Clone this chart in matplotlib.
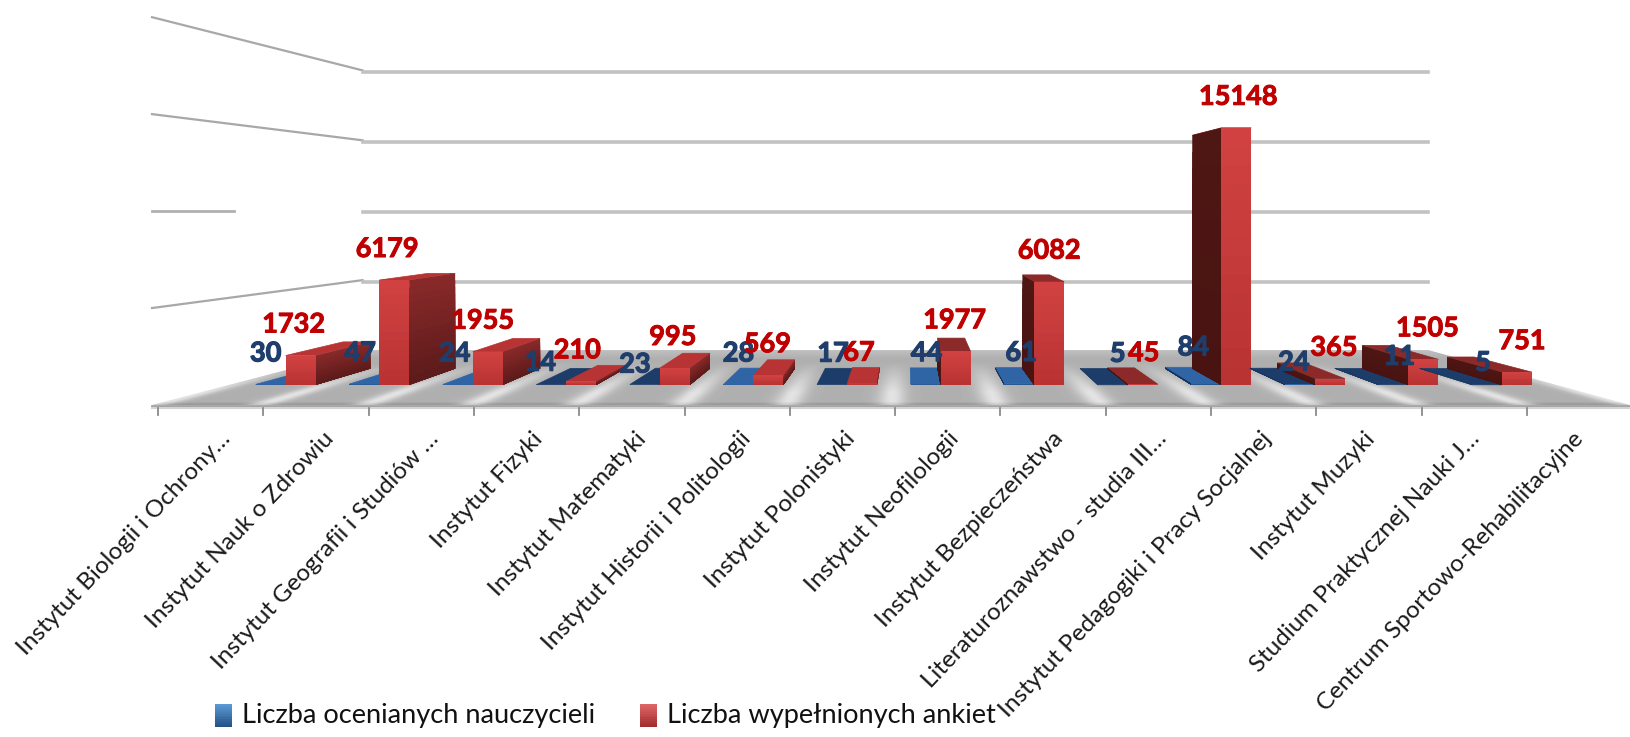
import numpy as np
import matplotlib
matplotlib.use('Agg')
import matplotlib.pyplot as plt
import matplotlib.patheffects as pe
from matplotlib.patches import Polygon
from matplotlib.colors import to_rgb

plt.rcParams['font.family'] = ['Lato', 'DejaVu Sans']

categories = ['Instytut Biologii i Ochrony…', 'Instytut Nauk o Zdrowiu', 'Instytut Geografii i Studiów …',
              'Instytut Fizyki', 'Instytut Matematyki', 'Instytut Historii i Politologii',
              'Instytut Polonistyki', 'Instytut Neofilologii', 'Instytut Bezpieczeństwa',
              'Literaturoznawstwo - studia III…', 'Instytut Pedagogiki i Pracy Socjalnej',
              'Instytut Muzyki', 'Studium Praktycznej Nauki J…', 'Centrum Sportowo-Rehabilitacyjne']
nauczyciele = [30, 47, 24, 14, 23, 28, 17, 44, 61, 5, 84, 24, 11, 5]
ankiety = [1732, 6179, 1955, 210, 995, 569, 67, 1977, 6082, 45, 15148, 365, 1505, 751]
legend_names = ['Liczba ocenianych nauczycieli', 'Liczba wypełnionych ankiet']

# label nudges, px
red_dx = [-7, -7, -5, -4, -2, -1, -3, -1, 0, 1, 2, 4, 4, 5]
blue_dx = [-5, -4, -3, -11, -10, 0, 1, 1, 2, 5, -13, -6, 6, -4]
blue_dy = [-31, -31, -31, -22, -20, -31, -31, -31, -31, -31, -36, -22, -28, -22]
dark_blue = [3, 4, 6, 9, 11, 12, 13]

# fake 3d: everything is scaled towards a vanishing point
VX, VY = 907, 208
FLOOR_Y = 405
K = 0.0189       # px per survey on the front plane
T_BACK = 0.721   # back wall
T_B0, T_B1 = 0.898, 0.815   # bar front, bar back
BAR_X0, BAR_STEP, BAR_W = 215, 104.2, 33.4
GRID = [5130, 10260, 15390, 20520]


def proj(x, t, val=0):
    return (VX + (x - VX) * t, VY + (FLOOR_Y - val * K - VY) * t)


def shade(ax, a, b, c, d, c0, c1, n=14, z=3):
    # quad a-b-c-d, colour goes from edge a-b to edge d-c
    # each strip runs to the far edge so no seams show between them
    a, b, c, d = map(np.array, (a, b, c, d))
    c0, c1 = np.array(to_rgb(c0)), np.array(to_rgb(c1))
    for i in range(n):
        f0 = i / n
        pts = [a + (d - a) * f0, b + (c - b) * f0, c, d]
        col = c0 + (c1 - c0) * (f0 + 0.5 / n)
        ax.add_patch(Polygon(pts, closed=True, fc=col, ec='none', zorder=z))


def bar(ax, x0, w, val, front0, front1, side0, side1, top):
    x1 = x0 + w
    # top
    ax.add_patch(Polygon([proj(x0, T_B0, val), proj(x1, T_B0, val), proj(x1, T_B1, val), proj(x0, T_B1, val)],
                         closed=True, fc=top, ec=top, lw=0.5, zorder=3))
    # side that faces the vanishing point
    if proj(x1, T_B0)[0] < VX - 15:
        e = x1
    elif proj(x0, T_B0)[0] > VX + 15:
        e = x0
    else:
        e = None
    if e is not None:
        shade(ax, proj(e, T_B0, val), proj(e, T_B1, val), proj(e, T_B1), proj(e, T_B0), side0, side1)
    shade(ax, proj(x0, T_B0, val), proj(x1, T_B0, val), proj(x1, T_B0), proj(x0, T_B0), front0, front1)


fig = plt.figure(figsize=(16.30, 7.37), dpi=100)
ax = fig.add_axes([0, 0, 1, 1])

# floor
xx, yy = np.meshgrid(np.arange(150, 1630), np.arange(350, 406))
t = (yy - VY) / (FLOOR_Y - VY)
u = VX + (xx - VX) / t
d = np.abs(((u - 152) + 52.8) % 105.6 - 52.8)
tex = 0.69 + 0.2 * np.exp(-(d / 14) ** 2) * np.clip((yy - 362) / 30, 0, 1)
tex = tex + 0.06 * np.clip((358 - yy) / 8, 0, 1) - 0.12 * np.clip((yy - 401) / 4, 0, 1)
img = ax.imshow(tex, cmap='gray', vmin=0, vmax=1, extent=(150, 1630, 406, 350), aspect='auto', zorder=1)
floor = Polygon([proj(152, 1), proj(1630, 1), proj(1630, T_BACK), proj(152, T_BACK)], closed=True,
                transform=ax.transData, fc='none', ec='none')
ax.add_patch(floor)
img.set_clip_path(floor)
ax.plot([152, 1630], [406, 406], color='#a2a2a2', lw=2, zorder=2)
ax.plot([152, 1630], [408, 408], color='#d4d4d4', lw=1.5, zorder=2)

# walls
for g in GRID:
    p0 = proj(152, 1, g)
    p1 = proj(152, T_BACK, g)
    p2 = proj(1630, T_BACK, g)
    if g == GRID[1]:
        ax.plot([p0[0], 234], [p0[1], p0[1]], color='#b0b0b0', lw=2, zorder=0)
    else:
        ax.plot([p0[0], p1[0]], [p0[1], p1[1]], color='#a8a8a8', lw=1.6, zorder=0)
    ax.plot([p1[0], p2[0]], [p1[1] + 2, p2[1] + 2], color='#c2c2c2', lw=2.6, zorder=0)

# axis ticks
for i in range(len(categories)):
    x = 158 + 105.3 * i
    ax.plot([x, x], [408, 415], color='#8a8a8a', lw=1.3, zorder=2)

# bars
for i in range(len(categories)):
    x0 = BAR_X0 + BAR_STEP * i - BAR_W
    left = proj(x0, T_B0)[0] < VX
    btop = '#1c3d69' if i in dark_blue else '#2f65a5'
    bar(ax, x0, BAR_W, nauczyciele[i], '#2f65a5', '#234f85', '#1c3d69', '#16305a', btop)
    s0, s1 = ('#8a2a2a', '#5c1a1a') if left else ('#4f1714', '#481311')
    bar(ax, x0 + BAR_W, BAR_W, ankiety[i], '#d24242', '#b83232', s0, s1, '#b83333' if left else '#8c2a2a')

# value labels sit a fixed distance over the bar
thick = [pe.withStroke(linewidth=0.7, foreground='#c00000')]
thick_b = [pe.withStroke(linewidth=0.9, foreground='#1f3e6b')]
for i in range(len(categories)):
    xb, yb = proj(BAR_X0 + BAR_STEP * i - BAR_W / 2, T_B0, nauczyciele[i])
    ax.text(xb + blue_dx[i], yb + blue_dy[i], str(nauczyciele[i]), color='#1f3e6b', fontsize=19.5, fontweight='bold',
            ha='center', va='center', zorder=5, path_effects=thick_b)
    xr, yr = proj(BAR_X0 + BAR_STEP * i + BAR_W / 2, T_B0, ankiety[i])
    ax.text(xr + red_dx[i], yr - 31, str(ankiety[i]), color='#c00000', fontsize=19.5, fontweight='bold',
            ha='center', va='center', zorder=6, path_effects=thick)

# category labels
for i, name in enumerate(categories):
    ax.text(219 + 104.1 * i, 428, name, rotation=46.5, rotation_mode='anchor', ha='right', va='top',
            fontsize=17.5, color='#1a1a1a', zorder=6)

# legend
for x, c0, c1, name, tx in [(215, '#5b9bd5', '#234f85', legend_names[0], 242),
                            (640, '#e06666', '#a02c2c', legend_names[1], 667)]:
    shade(ax, (x, 704), (x + 17, 704), (x + 17, 727), (x, 727), c0, c1, n=12, z=6)
    ax.text(tx, 716, name, fontsize=19.6, color='#111111', ha='left', va='center', zorder=6)

ax.set_xlim(0, 1630)
ax.set_ylim(737, 0)
ax.axis('off')
fig.savefig('out.png', dpi=100)
